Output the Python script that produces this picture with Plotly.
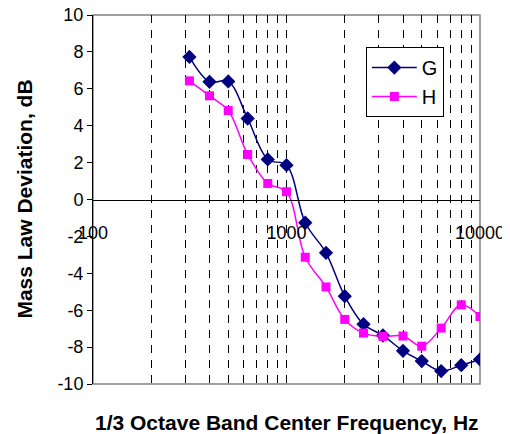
import plotly.graph_objects as go

freqs = [315, 400, 500, 630, 800, 1000, 1250, 1600, 2000, 2500, 3150, 4000, 5000, 6300, 8000, 10000]
g_vals = [7.73, 6.38, 6.40, 4.39, 2.17, 1.86, -1.26, -2.89, -5.24, -6.76, -7.37, -8.20, -8.76, -9.30, -8.98, -8.67]
h_vals = [6.43, 5.62, 4.82, 2.44, 0.87, 0.42, -3.13, -4.74, -6.50, -7.24, -7.42, -7.40, -7.95, -6.97, -5.71, -6.34]
grid_vals = [200, 300, 400, 500, 600, 700, 800, 900, 1000, 2000, 3000, 4000, 5000, 6000, 7000, 8000, 9000]
label_vals = [100, 1000, 10000]
label_text = ["100", "1000", "10000"]
y_ticks = [-10, -8, -6, -4, -2, 0, 2, 4, 6, 8, 10]
y_text = ["-10", "-8", "-6", "-4", "-2", "0", "2", "4", "6", "8", "10"]

FONT = "Liberation Sans, Arial, sans-serif"

fig = go.Figure()
fig.add_trace(go.Scatter(
    x=freqs, y=g_vals, name="G", mode="lines+markers",
    line=dict(color="#000080", width=1.5, shape="spline", smoothing=1.0),
    marker=dict(symbol="diamond", size=11, color="#000080"),
))
fig.add_trace(go.Scatter(
    x=freqs, y=h_vals, name="H", mode="lines+markers",
    line=dict(color="#FF00FF", width=1.5, shape="spline", smoothing=1.0),
    marker=dict(symbol="square", size=9, color="#FF00FF"),
))
# invisible trace on overlay axis to host tick labels at y=0
fig.add_trace(go.Scatter(x=[100, 10000], y=[0, 0], xaxis="x2", mode="lines",
                         line=dict(width=0), showlegend=False, hoverinfo="skip"))

fig.update_layout(
    width=502, height=426,
    margin=dict(l=85, r=30, t=7, b=50),
    paper_bgcolor="white", plot_bgcolor="white",
    font=dict(family=FONT, color="black", size=18),
    xaxis=dict(
        type="log", range=[2, 4], tickvals=grid_vals, showticklabels=False,
        showgrid=True, gridcolor="black", gridwidth=1, griddash="8px,7px",
        zeroline=False, showline=False, ticks="", automargin=False,
    ),
    xaxis2=dict(
        type="log", range=[2, 4], overlaying="x", anchor="free", position=0.5,
        side="bottom", tickvals=label_vals, ticktext=label_text,
        showgrid=False, showline=True, linecolor="black", linewidth=1,
        ticks="", zeroline=False, tickfont=dict(size=18, family=FONT),
        automargin=False, ticklabelstandoff=17, ticklabeloverflow="allow",
    ),
    yaxis=dict(
        range=[-10, 10], tickvals=y_ticks, ticktext=y_text,
        showgrid=False, zeroline=False,
        showline=True, linecolor="black", linewidth=1,
        ticks="outside", ticklen=5, tickcolor="black",
        tickfont=dict(size=18, family=FONT), automargin=False,
        ticklabeloverflow="allow",
    ),
    legend=dict(
        x=0.705, y=0.913, xanchor="left", yanchor="top",
        bgcolor="white", bordercolor="black", borderwidth=1,
        font=dict(size=20, family=FONT), itemwidth=45,
        tracegroupgap=4,
    ),
    shapes=[dict(type="rect", xref="paper", yref="paper", x0=0, x1=1, y0=0, y1=1,
                 line=dict(color="#808080", width=1.5), layer="below")],
    annotations=[
        dict(text="<b>1/3 Octave Band Center Frequency, Hz</b>", xref="paper", yref="paper",
             x=0.5, y=-0.068, xanchor="center", yanchor="top", showarrow=False,
             font=dict(size=21, family=FONT)),
        dict(text="<b>Mass Law Deviation, dB</b>", xref="paper", yref="paper",
             x=-0.178, y=0.5, xanchor="center", yanchor="middle", showarrow=False,
             textangle=-90, font=dict(size=21, family=FONT)),
    ],
    showlegend=True,
)

fig.write_html("out.html")
